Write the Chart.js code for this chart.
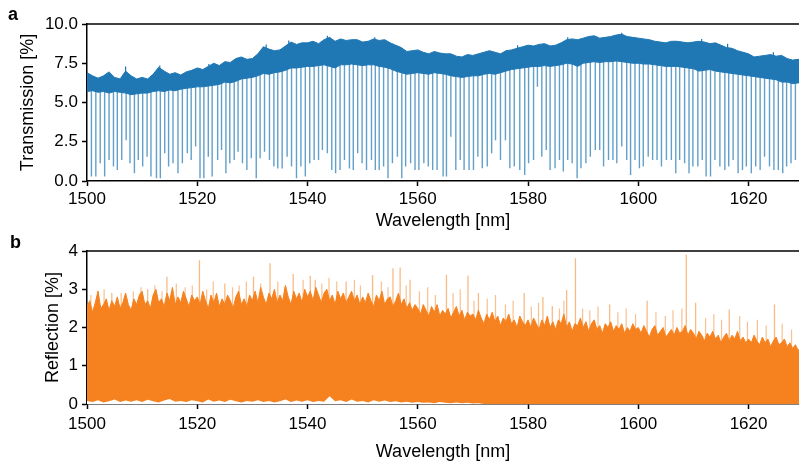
<!DOCTYPE html>
<html><head><meta charset="utf-8">
<script src="https://cdn.jsdelivr.net/npm/chart.js@4.4.0/dist/chart.umd.min.js"></script>
<style>
html,body{margin:0;padding:0;background:#fff;overflow:hidden;}
#wrap{position:relative;width:799px;height:463px;}
.panel{position:absolute;left:0;width:799px;}
.tag{position:absolute;font:bold 18px "Liberation Sans",Arial,sans-serif;line-height:18px;color:#000;}
</style></head><body>
<div id="wrap">
<div class="panel" style="top:0;height:232px;"><canvas id="c1" width="799" height="232"></canvas></div>
<div class="panel" style="top:232px;height:231px;"><canvas id="c2" width="799" height="231"></canvas></div>
<div class="tag" style="left:8px;top:5px;">a</div>
<div class="tag" style="left:10px;top:233px;">b</div>
</div>
<script>
// ---------- tick labels ----------
const xTicks = [1500, 1520, 1540, 1560, 1580, 1600, 1620];
const transTicks = [0, 2.5, 5, 7.5, 10];
const reflTicks = [0, 1, 2, 3, 4];

// ---------- (a) transmission: noisy band, sampled every 1 nm from 1500 nm ----------
const BAND_START = 1500, BAND_STEP = 1;
const bandHi = [
6.9,6.7,6.55,6.7,6.95,6.6,6.5,7.0,6.7,6.5,
6.6,6.5,6.8,7.25,7.0,6.8,6.9,6.75,6.95,7.05,
7.2,7.1,7.3,7.5,7.35,7.6,7.55,7.8,7.9,7.75,
7.8,8.1,8.55,8.4,8.3,8.35,8.6,8.85,8.7,8.8,
8.8,8.9,8.75,9.0,9.15,8.9,9.05,8.95,9.0,9.0,
8.85,8.9,9.05,8.95,9.0,8.8,8.65,8.5,8.25,8.3,
8.35,8.2,8.1,8.25,8.15,8.1,8.1,7.95,7.9,8.05,
8.0,8.1,8.2,8.3,8.2,8.1,8.3,8.35,8.45,8.55,
8.65,8.6,8.7,8.75,8.6,8.65,8.8,9.0,9.05,9.0,
9.1,9.2,9.25,9.1,9.15,9.2,9.3,9.35,9.2,9.15,
9.1,9.05,9.0,8.9,8.85,8.8,8.9,8.9,8.85,8.8,
8.85,8.9,8.85,8.75,8.8,8.65,8.5,8.45,8.3,8.2,
8.1,7.9,7.95,8.0,8.05,7.95,8.0,7.8,7.7,7.75,7.6];
const bandLo = [
5.7,5.75,5.65,5.7,5.6,5.7,5.65,5.6,5.5,5.55,
5.6,5.6,5.7,5.75,5.7,5.8,5.75,5.85,5.9,5.95,
6.0,6.0,6.05,6.1,6.15,6.3,6.25,6.35,6.5,6.55,
6.6,6.7,6.85,6.8,6.9,6.95,7.05,7.2,7.2,7.25,
7.3,7.3,7.35,7.4,7.3,7.2,7.4,7.4,7.45,7.4,
7.35,7.4,7.4,7.3,7.25,7.15,7.0,6.9,6.8,6.85,
6.9,6.85,6.8,6.9,6.85,6.8,6.7,6.65,6.6,6.65,
6.7,6.7,6.8,6.85,6.8,6.9,7.0,7.1,7.15,7.2,
7.25,7.3,7.3,7.35,7.3,7.35,7.4,7.5,7.45,7.3,
7.5,7.55,7.6,7.55,7.6,7.6,7.65,7.6,7.55,7.5,
7.5,7.45,7.45,7.4,7.35,7.3,7.3,7.3,7.25,7.2,
7.15,7.0,7.05,7.1,7.0,6.95,6.9,6.85,6.8,6.75,
6.7,6.65,6.6,6.55,6.5,6.45,6.3,6.3,6.2,6.25,6.2];
// short noise spikes poking above the band
const bandSpikeNm = [1507.0,1513.2,1522.1,1532.5,1536.6,1543.6,1552.2,1578.1,1587.2,1597.0,1611.5,1616.2,1624.5];
const bandSpikeVal = [7.3,7.35,7.45,8.7,8.95,9.25,9.15,8.65,9.15,9.45,9.05,8.75,8.2];

// resonance dips: wavelength [nm] and minimum transmission [%]
const dipNm = [
1500.8,1501.6,1502.4,1503.2,1504.0,1504.8,1505.5,1506.3,1507.1,1507.8,1508.6,1509.3,
1510.1,1510.9,1511.6,1512.6,1513.3,1514.1,1514.8,1515.6,1516.5,1517.3,1518.2,1518.9,1519.7,
1520.5,1521.2,1522.0,1522.7,1523.7,1524.4,1525.2,1525.9,1526.7,1527.4,1528.2,1529.0,1529.8,
1530.7,1531.4,1532.2,1533.1,1533.9,1534.6,1535.4,1536.3,1537.1,1538.0,1538.8,1539.6,
1540.4,1541.2,1542.0,1542.7,1543.6,1544.4,1545.1,1545.9,1546.7,1547.6,1548.3,1549.1,1549.9,
1550.7,1551.6,1552.3,1553.0,1553.8,1554.6,1555.4,1556.3,1557.1,1557.8,1558.7,1559.5,
1560.2,1561.1,1561.9,1562.7,1563.5,1564.6,1565.2,1566.0,1566.9,1567.7,1568.4,1569.3,
1570.1,1570.9,1571.7,1572.6,1573.4,1574.1,1575.0,1575.9,1576.7,1577.5,1578.5,1579.4,
1580.1,1581.0,1581.7,1582.5,1583.3,1584.0,1584.9,1585.7,1586.4,1587.2,1588.0,1588.9,1589.6,
1590.5,1591.3,1592.2,1593.0,1593.7,1594.6,1595.4,1596.1,1597.0,1597.9,1598.6,1599.4,
1600.2,1600.9,1601.8,1602.6,1603.4,1604.2,1605.1,1606.0,1606.8,1607.5,1608.4,1609.2,1609.9,
1610.8,1611.6,1612.3,1613.1,1613.9,1614.8,1615.7,1616.4,1617.2,1618.1,1618.9,1619.6,
1620.5,1621.3,1622.1,1622.9,1623.8,1624.6,1625.4,1626.2,1626.9,1627.7,1628.5];
const dipMin = [
0.28,0.28,1.13,0.28,1.34,0.92,0.7,1.34,2.6,1.13,0.49,1.34,
0.92,1.55,0.28,0.17,0.17,1.76,0.92,1.13,0.49,1.13,1.76,1.34,2.19,
0.17,0.17,1.55,0.28,1.34,1.97,0.49,1.13,1.34,1.87,1.13,0.7,1.45,
0.17,1.45,1.87,1.34,0.92,0.8,0.8,1.55,0.92,0.17,0.92,0.28,
1.13,1.34,1.34,1.97,1.76,0.7,0.49,0.7,1.34,0.8,0.7,1.76,1.13,
0.7,1.34,0.7,0.7,0.92,0.17,1.13,1.55,0.17,0.92,1.13,0.7,
0.7,1.13,0.92,0.7,0.7,0.28,0.28,2.82,0.7,1.34,0.7,0.7,
0.7,1.55,0.81,0.92,1.76,2.6,1.34,2.6,0.81,0.92,0.7,0.38,
1.13,1.34,6.0,1.55,1.97,0.7,0.81,1.34,0.6,1.34,1.13,0.17,0.81,
1.13,1.55,1.97,1.97,0.92,1.34,1.34,1.13,2.19,1.34,0.38,1.34,
0.81,0.92,1.55,1.34,1.34,0.92,1.34,1.34,0.49,1.34,1.13,0.49,0.92,
0.92,1.34,0.28,0.28,1.34,0.92,0.7,0.92,1.34,0.49,0.7,0.92,
0.49,0.92,0.7,1.55,0.92,0.7,0.7,0.49,0.92,1.13,1.34];

// ---------- (b) reflection: noisy top edge, sampled every 0.5 nm from 1500 nm ----------
const REFL_START = 1500, REFL_STEP = 0.5;
const reflHi = [
2.55,2.7,2.4,2.65,2.95,2.5,2.6,2.75,2.45,2.7,2.55,2.8,2.5,2.65,2.9,2.6,2.45,2.75,2.6,2.85,
2.95,2.6,2.7,2.5,2.85,3.0,2.65,2.75,2.55,2.9,2.7,3.05,2.6,2.8,2.65,2.95,2.75,2.55,2.85,2.7,
2.8,2.6,2.95,2.7,2.5,2.85,2.65,2.9,2.55,2.75,2.6,2.85,2.7,2.5,2.8,2.95,2.6,2.75,2.55,2.85,
2.7,2.95,2.65,3.05,2.8,2.6,2.9,2.75,3.0,2.65,2.85,2.7,3.1,2.8,2.6,2.95,2.75,2.9,2.65,3.0,
2.8,2.95,2.7,3.05,2.85,2.65,2.9,3.0,2.7,2.85,2.6,2.95,2.75,2.9,2.65,2.8,2.95,2.7,2.85,2.6,
2.8,2.65,2.9,2.7,2.55,2.85,2.7,2.95,2.6,2.75,2.8,2.55,2.7,2.9,2.6,2.75,2.5,2.65,2.45,2.6,
2.5,2.35,2.6,2.45,2.3,2.55,2.4,2.6,2.3,2.45,2.35,2.5,2.25,2.4,2.55,2.3,2.45,2.2,2.4,2.3,
2.35,2.2,2.45,2.25,2.1,2.35,2.2,2.4,2.15,2.3,2.05,2.25,2.15,2.35,2.1,2.2,2.0,2.3,2.15,2.05,
2.2,2.0,2.25,2.1,1.95,2.2,2.05,2.3,2.0,2.15,1.95,2.2,2.1,2.35,2.0,2.15,1.9,2.1,2.05,2.25,
2.0,2.15,1.9,2.1,2.2,1.95,2.05,1.85,2.1,2.0,2.15,1.9,2.05,1.95,2.1,1.85,2.0,1.9,2.1,1.95,
2.0,1.85,2.05,1.9,1.75,1.95,2.05,1.8,1.9,2.0,1.75,1.85,1.95,1.8,2.0,1.85,1.9,2.05,1.8,1.95,
1.85,1.7,1.9,1.8,1.65,1.85,1.75,1.9,1.7,1.8,1.6,1.75,1.85,1.65,1.8,1.7,1.9,1.65,1.75,1.6,
1.7,1.6,1.8,1.65,1.55,1.75,1.6,1.7,1.5,1.65,1.75,1.55,1.6,1.7,1.5,1.6,1.45,1.55,1.4,1.5,
1.35];
// white gaps at the bottom of the reflection trace, every 1 nm from 1500 nm
const GAP_START = 1500, GAP_STEP = 1;
const reflLo = [
0.08,0.05,0.1,0.04,0.07,0.12,0.05,0.09,0.06,0.1,
0.05,0.11,0.07,0.04,0.09,0.13,0.06,0.08,0.05,0.1,
0.07,0.04,0.12,0.06,0.09,0.05,0.11,0.07,0.04,0.08,
0.06,0.1,0.05,0.08,0.04,0.07,0.12,0.05,0.09,0.06,
0.1,0.05,0.08,0.06,0.2,0.07,0.1,0.05,0.12,0.06,
0.08,0.04,0.1,0.06,0.09,0.05,0.07,0.04,0.06,0.03,
0.05,0.03,0.04,0.02,0.05,0.03,0.02,0.04,0.02,0.03,
0.01,0.02,0.0];
// isolated reflection spikes: wavelength [nm] and peak [%]
const spikeNm = [1502.0,1504.5,1511.0,1514.5,1520.4,1525.0,1530.2,1533.2,1537.4,1540.5,1541.4,1547.0,
1551.8,1555.5,1556.8,1558.6,1565.2,1569.1,1571.0,1579.3,1582.7,1584.4,1587.0,1588.6,1594.8,1601.6,
1608.7,1610.4,1616.5,1624.7];
const spikeVal = [2.95,2.9,3.0,3.33,3.76,3.15,3.33,3.68,3.4,3.35,3.25,3.2,
3.37,3.55,3.57,3.25,3.38,3.35,2.9,2.9,2.8,2.56,2.98,3.81,2.6,2.7,
3.9,2.65,2.47,2.6];
// smaller light streaks just above the dense trace
const fringeNm = [1500.7,1503.1,1506.2,1508.4,1509.8,1512.3,1513.6,1516.2,1517.8,1519.1,1521.7,1522.9,
1526.4,1527.6,1528.9,1531.5,1534.6,1535.8,1539.2,1542.6,1543.9,1545.3,1548.5,1549.6,1553.4,1554.6,
1557.9,1560.3,1561.8,1563.2,1566.4,1567.7,1570.2,1572.6,1574.1,1575.9,1577.3,1580.6,1581.9,1585.7,
1586.5,1589.9,1591.2,1592.7,1596.3,1597.8,1599.5,1603.2,1604.9,1606.3,1607.9,1612.2,1613.7,1615.1,
1618.4,1619.8,1621.6,1623.2,1626.1,1627.8];
const fringeVal = [2.85,3.0,2.9,2.95,3.05,3.1,2.95,3.15,3.05,3.1,3.0,3.2,
3.05,3.1,3.2,3.15,3.2,3.05,3.25,3.15,3.3,3.2,3.25,3.1,3.2,3.05,
3.1,2.95,3.05,2.85,2.9,3.0,2.7,2.75,2.85,2.6,2.7,2.55,2.65,2.5,
2.7,2.5,2.45,2.55,2.4,2.5,2.35,2.4,2.3,2.45,2.5,2.25,2.35,2.2,
2.3,2.15,2.2,2.05,2.1,1.95];

// ---------- drawing ----------
const FONT = '"Liberation Sans", Arial, Helvetica, sans-serif';
const BLUE = '#1f77b4', ORANGE = '#f5821f';
const LEFT = 87;
const XMAX = 1629.15;

const topSpine = {
  id: 'topSpine',
  afterDraw(chart) {
    const {ctx, chartArea: a} = chart;
    ctx.save(); ctx.strokeStyle = '#000'; ctx.lineWidth = 1.5;
    ctx.beginPath(); ctx.moveTo(a.left - 0.75, a.top); ctx.lineTo(a.right, a.top); ctx.stroke();
    ctx.restore();
  }
};

function series(start, step, arr) { return arr.map((v, i) => ({x: start + i * step, y: v})); }
function strokes(xs, lows, highs) {
  const pts = [];
  xs.forEach((w, i) => { pts.push({x: w, y: lows(i)}, {x: w, y: highs[i]}, {x: w, y: null}); });
  return pts;
}
function bandLoAt(w) {
  return bandLo[Math.min(bandLo.length - 1, Math.round((w - BAND_START) / BAND_STEP))];
}

function scales(opts) {
  return {
    x: {
      type: 'linear', min: 1500, max: XMAX, z: 1,
      afterBuildTicks: s => { s.ticks = xTicks.map(v => ({value: v})); },
      afterFit: s => { s.height = opts.xHeight; },
      grid: {drawOnChartArea: false, drawTicks: true, tickLength: 5, tickWidth: 1.5, tickColor: '#000'},
      border: {display: true, color: '#000', width: 1.5},
      ticks: {color: '#000', font: {family: FONT, size: 17}, padding: opts.xPad, maxRotation: 0, autoSkip: false,
              callback: v => String(v)},
      title: {display: true, text: 'Wavelength [nm]', color: '#000', font: {family: FONT, size: 18},
              padding: {top: 0, bottom: 0}}
    },
    y: {
      type: 'linear', min: opts.yMin, max: opts.yMax, z: 1,
      afterBuildTicks: s => { s.ticks = opts.yTicks.map(v => ({value: v})); },
      afterFit: s => { s.width = LEFT - 10; },
      grid: {drawOnChartArea: false, drawTicks: true, tickLength: 5, tickWidth: 1.5, tickColor: '#000'},
      border: {display: true, color: '#000', width: 1.5},
      ticks: {color: '#000', font: {family: FONT, size: 17}, padding: 4, autoSkip: false, callback: opts.fmt},
      title: {display: true, text: opts.title, color: '#000', font: {family: FONT, size: 18},
              padding: {top: opts.titlePad, bottom: 0}}
    }
  };
}

const common = {
  responsive: false, animation: false, devicePixelRatio: 1, events: [],
  plugins: {legend: {display: false}, tooltip: {enabled: false}},
  elements: {point: {radius: 0}, line: {tension: 0}}
};

new Chart(document.getElementById('c1'), {
  type: 'line',
  data: {datasets: [
    {data: series(BAND_START, BAND_STEP, bandHi), borderColor: BLUE, borderWidth: 1,
     backgroundColor: BLUE, fill: '+1', order: 0},
    {data: series(BAND_START, BAND_STEP, bandLo), borderColor: BLUE, borderWidth: 1, fill: false, order: 0},
    {data: strokes(bandSpikeNm, i => bandLoAt(bandSpikeNm[i]) + 0.5, bandSpikeVal), borderColor: BLUE,
     borderWidth: 1.2, spanGaps: false, fill: false, order: 4},
    {data: strokes(dipNm, i => bandLoAt(dipNm[i]) + 0.5, dipMin), borderColor: 'rgba(31,119,180,0.7)',
     borderWidth: 1.4, spanGaps: false, fill: false, order: 5}
  ]},
  options: Object.assign({}, common, {
    layout: {padding: {left: 10, right: 0, top: 24, bottom: 0}},
    scales: scales({xHeight: 51, xPad: 3, yMin: 0, yMax: 10, yTicks: transTicks, fmt: v => v.toFixed(1),
                    title: 'Transmission [%]', titlePad: 7})
  }),
  plugins: [topSpine]
});

new Chart(document.getElementById('c2'), {
  type: 'line',
  data: {datasets: [
    {data: series(GAP_START, GAP_STEP, reflLo), borderWidth: 0, borderColor: 'rgba(0,0,0,0)',
     backgroundColor: '#ffffff', fill: 'origin', order: 0},
    {data: series(REFL_START, REFL_STEP, reflHi), borderColor: ORANGE, borderWidth: 1,
     backgroundColor: ORANGE, fill: 'origin', order: 1},
    {data: strokes(spikeNm, () => 1.0, spikeVal), borderColor: 'rgba(245,130,31,0.55)', borderWidth: 1.3,
     spanGaps: false, fill: false, order: 5},
    {data: strokes(fringeNm, () => 1.0, fringeVal), borderColor: 'rgba(245,130,31,0.5)', borderWidth: 1.2,
     spanGaps: false, fill: false, order: 6}
  ]},
  options: Object.assign({}, common, {
    layout: {padding: {left: 10, right: 0, top: 19, bottom: 0}},
    scales: scales({xHeight: 59, xPad: 5, yMin: 0, yMax: 4, yTicks: reflTicks, fmt: v => String(v),
                    title: 'Reflection [%]', titlePad: 32})
  }),
  plugins: [topSpine]
});
</script>
</body></html>
